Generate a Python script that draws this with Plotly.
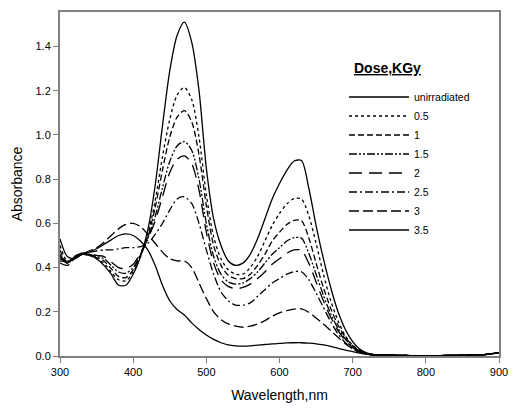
import plotly.graph_objects as go

wavelength = [300, 310, 320, 330, 340, 350, 360, 370, 380, 390, 400, 410, 420, 430, 440,
              450, 460, 470, 480, 490, 500, 510, 520, 530, 540, 550, 560, 570, 580, 590,
              600, 610, 620, 630, 640, 650, 660, 670, 680, 690, 700, 710, 720, 730, 740,
              750, 760, 780, 800, 820, 840, 860, 880, 900]

tail = [0.004, 0.003, 0.002, 0.002, 0.002, 0.003, 0.004, 0.006, 0.015]

a_unirr = [0.53, 0.45, 0.44, 0.46, 0.46, 0.44, 0.41, 0.37, 0.32, 0.32, 0.37, 0.45, 0.57, 0.77, 1.04,
           1.29, 1.45, 1.51, 1.42, 1.20, 0.85, 0.62, 0.50, 0.43, 0.41, 0.42, 0.46, 0.53, 0.62, 0.71,
           0.78, 0.84, 0.882, 0.884, 0.76, 0.59, 0.44, 0.31, 0.20, 0.12, 0.065, 0.03, 0.013, 0.006, 0.005] + tail
a_05 = [0.50, 0.43, 0.44, 0.46, 0.455, 0.44, 0.42, 0.38, 0.345, 0.34, 0.38, 0.45, 0.55, 0.70, 0.90,
        1.07, 1.18, 1.215, 1.16, 0.99, 0.73, 0.54, 0.44, 0.39, 0.37, 0.37, 0.40, 0.45, 0.52, 0.59,
        0.645, 0.688, 0.712, 0.71, 0.635, 0.51, 0.37, 0.25, 0.16, 0.09, 0.05, 0.025, 0.012, 0.006, 0.005] + tail
a_1 = [0.48, 0.42, 0.445, 0.46, 0.455, 0.445, 0.43, 0.395, 0.36, 0.355, 0.39, 0.455, 0.54, 0.67, 0.84,
       0.99, 1.08, 1.11, 1.06, 0.91, 0.68, 0.50, 0.41, 0.365, 0.35, 0.35, 0.37, 0.41, 0.46, 0.52,
       0.56, 0.595, 0.614, 0.612, 0.535, 0.42, 0.31, 0.215, 0.14, 0.085, 0.047, 0.023, 0.011, 0.006, 0.004] + tail
a_15 = [0.46, 0.42, 0.45, 0.465, 0.46, 0.45, 0.44, 0.41, 0.38, 0.375, 0.40, 0.46, 0.53, 0.63, 0.76,
        0.88, 0.95, 0.97, 0.93, 0.80, 0.60, 0.45, 0.37, 0.335, 0.325, 0.33, 0.35, 0.38, 0.42, 0.46,
        0.49, 0.52, 0.535, 0.533, 0.465, 0.37, 0.275, 0.19, 0.125, 0.077, 0.043, 0.021, 0.01, 0.005, 0.004] + tail
a_2 = [0.45, 0.42, 0.45, 0.465, 0.465, 0.455, 0.45, 0.425, 0.40, 0.395, 0.415, 0.465, 0.53, 0.61, 0.72,
       0.83, 0.89, 0.905, 0.87, 0.75, 0.56, 0.42, 0.345, 0.315, 0.305, 0.31, 0.325, 0.35, 0.38, 0.415,
       0.44, 0.465, 0.48, 0.478, 0.42, 0.335, 0.25, 0.175, 0.115, 0.07, 0.039, 0.019, 0.009, 0.005, 0.004] + tail
a_25 = [0.44, 0.43, 0.45, 0.46, 0.47, 0.475, 0.48, 0.48, 0.485, 0.49, 0.49, 0.495, 0.51, 0.55, 0.60,
        0.66, 0.71, 0.72, 0.69, 0.60, 0.48, 0.37, 0.29, 0.25, 0.23, 0.23, 0.24, 0.27, 0.30, 0.33,
        0.35, 0.37, 0.382, 0.381, 0.345, 0.285, 0.22, 0.155, 0.10, 0.06, 0.033, 0.017, 0.008, 0.005, 0.004] + tail
a_3 = [0.42, 0.41, 0.44, 0.46, 0.475, 0.49, 0.515, 0.545, 0.575, 0.595, 0.60, 0.585, 0.55, 0.51, 0.47,
       0.44, 0.43, 0.43, 0.40, 0.33, 0.26, 0.20, 0.165, 0.145, 0.135, 0.13, 0.135, 0.145, 0.16, 0.18,
       0.195, 0.205, 0.212, 0.213, 0.198, 0.172, 0.145, 0.115, 0.085, 0.055, 0.032, 0.017, 0.009, 0.005, 0.004] + tail
a_35 = [0.43, 0.425, 0.445, 0.46, 0.47, 0.485, 0.505, 0.525, 0.545, 0.552, 0.545, 0.52, 0.48, 0.41, 0.32,
        0.25, 0.21, 0.185, 0.15, 0.12, 0.095, 0.075, 0.06, 0.05, 0.046, 0.045, 0.046, 0.049, 0.052, 0.055,
        0.057, 0.059, 0.06, 0.06, 0.058, 0.055, 0.05, 0.043, 0.035, 0.027, 0.02, 0.013, 0.008, 0.005, 0.003] + tail

series_names = ["unirradiated", "0.5", "1", "1.5", "2", "2.5", "3", "3.5"]
series_values = [a_unirr, a_05, a_1, a_15, a_2, a_25, a_3, a_35]
dashes = ["solid", "dot", "6px,3px", "8px,2px,2px,2px,2px,2px", "13px,7px",
          "8px,3px,2px,3px", "10px,4px", "solid"]

x_ticks = [300, 400, 500, 600, 700, 800, 900]
y_ticks = [0.0, 0.2, 0.4, 0.6, 0.8, 1.0, 1.2, 1.4]
legend_title = "Dose,KGy"

fig = go.Figure()
for name, vals, d in zip(series_names, series_values, dashes):
    fig.add_trace(go.Scatter(
        x=wavelength, y=vals, name=name, mode="lines",
        line=dict(color="black", width=1.3, dash=d, shape="spline", smoothing=0.8),
    ))

FONT = "Liberation Sans, Arial, sans-serif"
fig.add_annotation(
    text=f"<b><u>{legend_title}</u></b>", xref="paper", yref="paper",
    x=0.746, y=0.837, xanchor="center", yanchor="middle", showarrow=False,
    font=dict(size=14, family=FONT, color="black"),
)
fig.update_layout(
    width=516, height=411,
    margin=dict(l=60, r=8, t=12, b=55),
    paper_bgcolor="white", plot_bgcolor="white",
    font=dict(family=FONT, size=12, color="black"),
    showlegend=True,
    legend=dict(
        x=0.647, y=0.795, xanchor="left", yanchor="top",
        bgcolor="rgba(0,0,0,0)",
        font=dict(size=10.5, family=FONT),
        itemwidth=60,
    ),
    xaxis=dict(
        range=[300, 900], tickvals=x_ticks, ticktext=[str(v) for v in x_ticks],
        showline=True, linecolor="#808080", linewidth=2, mirror=True,
        ticks="outside", ticklen=5, tickcolor="#808080", tickwidth=1,
        showgrid=False, zeroline=False, ticklabeloverflow="allow",
        title=dict(text="Wavelength,nm", font=dict(size=14), standoff=13),
        tickfont=dict(size=11),
    ),
    yaxis=dict(
        range=[0, 1.556], tickvals=y_ticks, ticktext=[f"{v:.1f}" for v in y_ticks],
        showline=True, linecolor="#808080", linewidth=2, mirror=True,
        ticks="outside", ticklen=5, tickcolor="#808080", tickwidth=1,
        showgrid=False, zeroline=False,
        title=dict(text="Absorbance", font=dict(size=14), standoff=10),
        tickfont=dict(size=11),
    ),
)

fig.write_html("out.html")
